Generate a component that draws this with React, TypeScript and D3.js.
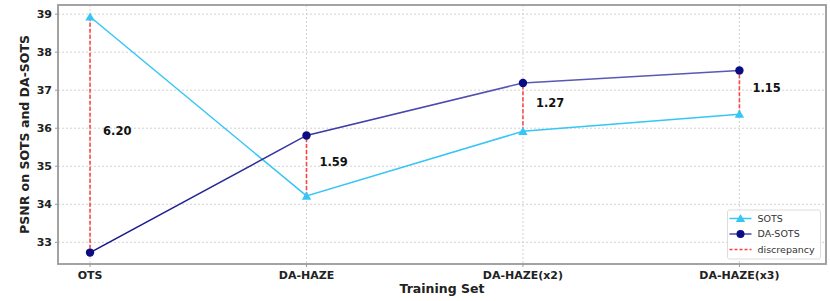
import * as d3 from "d3";

const categories = ["OTS", "DA-HAZE", "DA-HAZE(x2)", "DA-HAZE(x3)"];
const sotsValues = [38.93, 34.22, 35.92, 36.37];
const daSotsValues = [32.73, 35.81, 37.19, 37.52];
const gapLabels = ["6.20", "1.59", "1.27", "1.15"];
const yTicks = [33, 34, 35, 36, 37, 38, 39];

const width = 830;
const height = 301;
const left = 58;
const right = 826;
const top = 5;
const bottom = 264;

const FONT = "'DejaVu Sans', sans-serif";

function App() {
  const xScale = d3
    .scaleLinear()
    .domain([-0.148, 3.4])
    .range([left, right]);

  const yScale = d3.scaleLinear().domain([32.43, 39.24]).range([bottom, top]);

  const sotsLine = d3
    .line<number>()
    .x((_, i) => xScale(i))
    .y((d) => yScale(d));
  const daLine = d3
    .line<number>()
    .x((_, i) => xScale(i))
    .y((d) => yScale(d));

  const tri = d3.symbol().type(d3.symbolTriangle).size(38)();

  const sotsColor = "#35c6f7";
  const navy = "#0b0b82";
  const red = "#ff2a2a";

  return (
    <div style={{ position: "absolute", left: 0, top: 0 }}>
      <svg width={width} height={height} viewBox={`0 0 ${width} ${height}`} style={{ display: "block" }}>
        <defs>
          <linearGradient
            id="daGrad"
            gradientUnits="userSpaceOnUse"
            x1={xScale(0)}
            x2={xScale(2)}
            y1={0}
            y2={0}
          >
            <stop offset="0%" stopColor="#12128a" />
            <stop offset="55%" stopColor="#3b3ba6" />
            <stop offset="100%" stopColor="#5858b6" />
          </linearGradient>
        </defs>
        <rect x={0} y={0} width={width} height={height} fill="white" />

        {/* grid */}
        {yTicks.map((t) => (
          <line
            key={"gy" + t}
            x1={left}
            x2={right}
            y1={yScale(t)}
            y2={yScale(t)}
            stroke="#c8c8c8"
            strokeWidth={0.8}
            strokeDasharray="2,2"
          />
        ))}
        {categories.map((c, i) => (
          <line
            key={"gx" + c}
            x1={xScale(i)}
            x2={xScale(i)}
            y1={top}
            y2={bottom}
            stroke="#c8c8c8"
            strokeWidth={0.8}
            strokeDasharray="2,2"
          />
        ))}

        {/* discrepancy */}
        {categories.map((c, i) => (
          <line
            key={"d" + c}
            x1={xScale(i)}
            x2={xScale(i)}
            y1={yScale(sotsValues[i])}
            y2={yScale(daSotsValues[i])}
            stroke={red}
            strokeOpacity={0.85}
            strokeWidth={1.6}
            strokeDasharray="4,2"
          />
        ))}

        {/* lines */}
        <path d={sotsLine(sotsValues) ?? ""} fill="none" stroke={sotsColor} strokeWidth={1.5} />
        <path d={daLine(daSotsValues) ?? ""} fill="none" stroke="url(#daGrad)" strokeWidth={1.5} />

        {sotsValues.map((v, i) => (
          <path
            key={"st" + i}
            d={tri ?? ""}
            transform={`translate(${xScale(i)},${yScale(v) + 1})`}
            fill={sotsColor}
          />
        ))}
        {daSotsValues.map((v, i) => (
          <circle key={"dc" + i} cx={xScale(i)} cy={yScale(v)} r={4.2} fill={navy} />
        ))}

        {/* gap labels */}
        {gapLabels.map((g, i) => (
          <text
            key={"g" + g}
            x={xScale(i) + 13}
            y={yScale((sotsValues[i] + daSotsValues[i]) / 2)}
            fontFamily={FONT}
            fontWeight="bold"
            fontSize={11.5}
            fill="#111"
          >
            {g}
          </text>
        ))}

        {/* frame */}
        <rect
          x={left}
          y={top}
          width={right - left}
          height={bottom - top}
          fill="none"
          stroke="#9a9a9a"
          strokeWidth={1.8}
        />

        {/* y ticks */}
        {yTicks.map((t) => (
          <g key={"yt" + t}>
            <line x1={left - 3} x2={left} y1={yScale(t)} y2={yScale(t)} stroke="#9a9a9a" />
            <text
              x={left - 6}
              y={yScale(t)}
              dy="0.35em"
              textAnchor="end"
              fontFamily={FONT}
              fontWeight="bold"
              fontSize={11}
              fill="#222"
            >
              {t}
            </text>
          </g>
        ))}

        {/* x ticks */}
        {categories.map((c, i) => (
          <g key={"xt" + c}>
            <line x1={xScale(i)} x2={xScale(i)} y1={bottom} y2={bottom + 3} stroke="#9a9a9a" />
            <text
              x={xScale(i)}
              y={279}
              textAnchor="middle"
              fontFamily={FONT}
              fontWeight="bold"
              fontSize={11}
              fill="#222"
            >
              {c}
            </text>
          </g>
        ))}

        {/* axis titles */}
        <text
          x={(left + right) / 2}
          y={293}
          textAnchor="middle"
          fontFamily={FONT}
          fontWeight="bold"
          fontSize={12.5}
          fill="#222"
        >
          Training Set
        </text>
        <text
          transform={`translate(29,${(top + bottom) / 2}) rotate(-90)`}
          textAnchor="middle"
          fontFamily={FONT}
          fontWeight="bold"
          fontSize={12.5}
          fill="#222"
        >
          PSNR on SOTS and DA-SOTS
        </text>

        {/* legend */}
        <g transform="translate(727.5,210)">
          <rect width={93} height={49} rx={2} fill="white" fillOpacity={0.85} stroke="#dcdcdc" />
          <line x1={2} x2={24} y1={8.5} y2={8.5} stroke={sotsColor} strokeWidth={1.5} />
          <path d={tri ?? ""} transform="translate(13,9.3)" fill={sotsColor} />
          <text x={30} y={8.5} dy="0.35em" fontFamily={FONT} fontSize={9.5} fill="#333">
            SOTS
          </text>
          <line x1={2} x2={24} y1={24} y2={24} stroke="#4a4ab0" strokeWidth={1.5} />
          <circle cx={13} cy={24} r={4} fill={navy} />
          <text x={30} y={24} dy="0.35em" fontFamily={FONT} fontSize={9.5} fill="#333">
            DA-SOTS
          </text>
          <line
            x1={2}
            x2={24}
            y1={39.5}
            y2={39.5}
            stroke={red}
            strokeOpacity={0.9}
            strokeWidth={1.3}
            strokeDasharray="3,2"
          />
          <text x={30} y={39.5} dy="0.35em" fontFamily={FONT} fontSize={9.5} fill="#333">
            discrepancy
          </text>
        </g>
      </svg>
    </div>
  );
}

export default App;
